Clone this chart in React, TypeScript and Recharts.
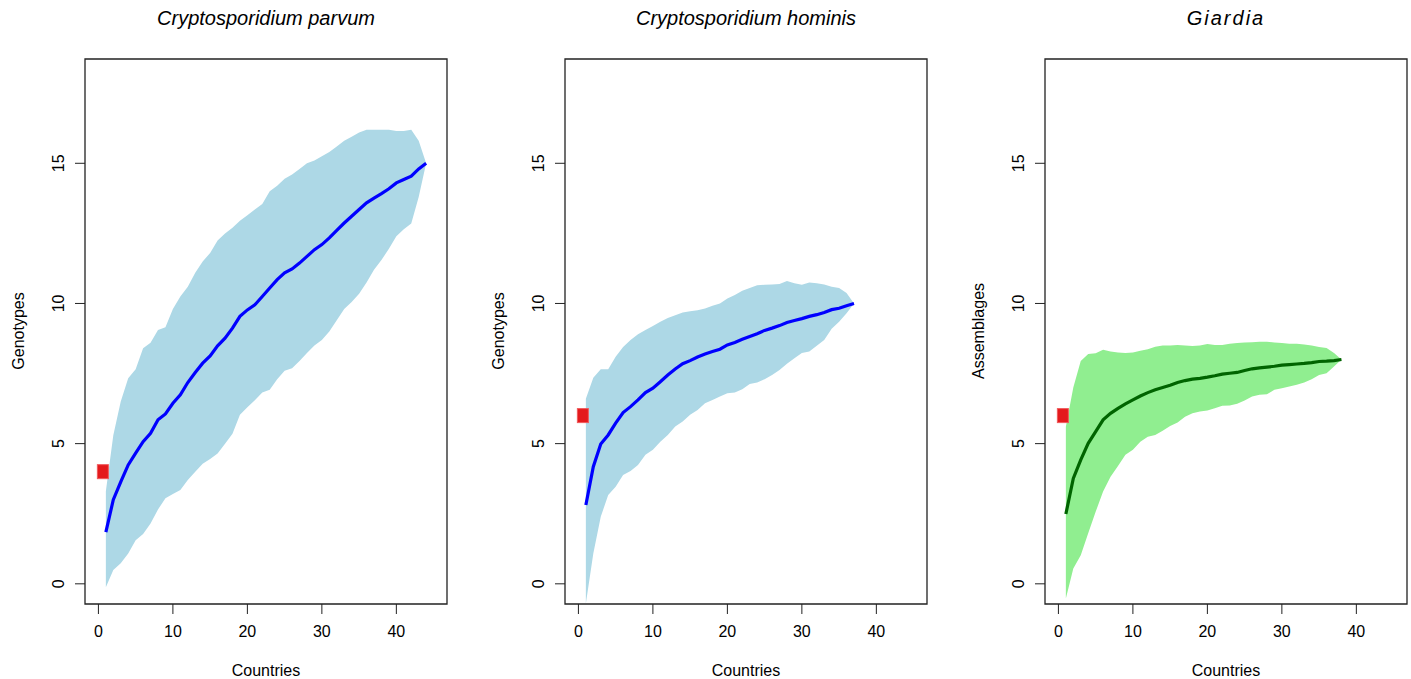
import React from "react"
import {
  ComposedChart,
  Area,
  Line,
  Scatter,
  XAxis,
  YAxis,
  ReferenceArea,
} from "recharts"

// rarefaction curves: mean and band per number of countries sampled
const parvumMean = [1.84, 3.0, 3.64, 4.24, 4.66, 5.07, 5.37, 5.85, 6.06, 6.44, 6.74, 7.18, 7.54, 7.87, 8.13, 8.49, 8.76, 9.12, 9.54, 9.77, 9.95, 10.25, 10.55, 10.85, 11.09, 11.23, 11.44, 11.68, 11.92, 12.1, 12.34, 12.61, 12.87, 13.11, 13.35, 13.59, 13.76, 13.92, 14.09, 14.3, 14.42, 14.54, 14.8, 15.0]
const parvumLower = [-0.12, 0.49, 0.73, 1.08, 1.55, 1.78, 2.15, 2.65, 3.05, 3.2, 3.35, 3.7, 4.0, 4.28, 4.45, 4.65, 5.0, 5.35, 6.03, 6.3, 6.55, 6.82, 6.92, 7.3, 7.6, 7.69, 7.95, 8.23, 8.5, 8.7, 9.0, 9.4, 9.8, 10.05, 10.35, 10.75, 11.2, 11.55, 11.95, 12.4, 12.65, 12.85, 13.8, 15.0]
const parvumUpper = [3.3, 5.3, 6.5, 7.33, 7.65, 8.4, 8.6, 9.05, 9.15, 9.8, 10.25, 10.6, 11.1, 11.5, 11.8, 12.25, 12.5, 12.7, 12.95, 13.15, 13.35, 13.55, 14.0, 14.2, 14.45, 14.6, 14.8, 15.0, 15.1, 15.25, 15.4, 15.6, 15.8, 15.95, 16.1, 16.2, 16.2, 16.2, 16.2, 16.15, 16.15, 16.2, 15.8, 15.0]

const hominisMean = [2.81, 4.18, 4.99, 5.31, 5.73, 6.11, 6.32, 6.56, 6.82, 6.98, 7.21, 7.45, 7.66, 7.85, 7.96, 8.09, 8.2, 8.29, 8.37, 8.52, 8.61, 8.72, 8.82, 8.92, 9.04, 9.12, 9.21, 9.32, 9.39, 9.46, 9.54, 9.6, 9.68, 9.78, 9.83, 9.92, 10.0]
const hominisLower = [-0.7, 1.08, 2.39, 3.17, 3.46, 3.88, 4.02, 4.24, 4.6, 4.78, 5.07, 5.31, 5.61, 5.79, 6.03, 6.2, 6.44, 6.56, 6.68, 6.8, 6.82, 6.94, 7.13, 7.18, 7.3, 7.45, 7.63, 7.85, 8.05, 8.23, 8.29, 8.49, 8.7, 9.1, 9.35, 9.65, 10.0]
const hominisUpper = [6.6, 7.35, 7.65, 7.65, 8.1, 8.45, 8.7, 8.9, 9.05, 9.2, 9.35, 9.48, 9.58, 9.68, 9.72, 9.76, 9.82, 9.92, 10.0, 10.18, 10.3, 10.45, 10.55, 10.65, 10.67, 10.68, 10.69, 10.8, 10.72, 10.67, 10.75, 10.72, 10.68, 10.6, 10.55, 10.37, 10.0]

const giardiaMean = [2.49, 3.76, 4.42, 5.01, 5.43, 5.85, 6.08, 6.26, 6.42, 6.56, 6.7, 6.82, 6.92, 7.0, 7.08, 7.18, 7.25, 7.3, 7.33, 7.37, 7.42, 7.48, 7.51, 7.54, 7.61, 7.67, 7.7, 7.73, 7.76, 7.8, 7.82, 7.84, 7.86, 7.89, 7.93, 7.94, 7.96, 8.0]
const giardiaLower = [-0.52, 0.55, 1.02, 1.8, 2.57, 3.29, 3.82, 4.2, 4.6, 4.78, 5.07, 5.25, 5.31, 5.46, 5.63, 5.75, 5.96, 6.08, 6.15, 6.18, 6.26, 6.35, 6.36, 6.42, 6.54, 6.68, 6.74, 6.76, 6.92, 6.98, 7.04, 7.1, 7.18, 7.3, 7.45, 7.51, 7.75, 8.0]
const giardiaUpper = [5.6, 7.0, 7.95, 8.2, 8.22, 8.35, 8.29, 8.25, 8.23, 8.25, 8.31, 8.37, 8.46, 8.5, 8.5, 8.52, 8.5, 8.48, 8.5, 8.55, 8.52, 8.52, 8.56, 8.59, 8.61, 8.62, 8.63, 8.63, 8.61, 8.59, 8.56, 8.56, 8.54, 8.5, 8.45, 8.41, 8.23, 8.0]

// observed value (red marker)
const parvumObserved = [{ x: 0.6, y: 4 }]
const hominisObserved = [{ x: 0.6, y: 6 }]
const giardiaObserved = [{ x: 0.6, y: 6 }]

const xTicks = [0, 10, 20, 30, 40]
const yTicks = [0, 5, 10, 15]

const FONT = "'Liberation Sans', Arial, Helvetica, sans-serif"
const X_DOMAIN: [number, number] = [-1.8, 46.8]
const Y_DOMAIN: [number, number] = [-0.72, 18.72]

const buildRows = (mean: number[], lower: number[], upper: number[]) =>
  mean.map((m, i) => ({ x: i + 1, mean: m, band: [lower[i], upper[i]] }))

const YTick = ({ x, y, payload }: any) => (
  <text
    x={x}
    y={y}
    transform={`rotate(-90 ${x} ${y})`}
    textAnchor="middle"
    fontSize={16}
    fontFamily={FONT}
    fill="#000"
  >
    {payload.value}
  </text>
)

const RedMark = (props: any) => (
  <rect
    x={props.cx - 5.5}
    y={props.cy - 7}
    width={11}
    height={14}
    fill="#E41A1C"
    stroke="#F05A5C"
    strokeWidth={1}
  />
)

type PanelProps = {
  left: number
  title: string
  titleSpacing?: number
  yLabel: string
  mean: number[]
  lower: number[]
  upper: number[]
  observed: { x: number; y: number }[]
  bandColor: string
  lineColor: string
}

function Panel({ left, title, titleSpacing = 0, yLabel, mean, lower, upper, observed, bandColor, lineColor }: PanelProps) {
  const rows = buildRows(mean, lower, upper)
  return (
    <div style={{ position: "absolute", left, top: 0, width: 470, height: 679 }}>
      <ComposedChart
        width={470}
        height={679}
        data={rows}
        margin={{ top: 59, right: 23, left: 45, bottom: 45 }}
      >
        <XAxis
          dataKey="x"
          type="number"
          domain={X_DOMAIN}
          ticks={xTicks}
          allowDataOverflow
          axisLine={false}
          tickLine={{ stroke: "#222" }}
          tickSize={10}
          tickMargin={12}
          height={30}
          tick={{ fontSize: 16, fontFamily: FONT, fill: "#000" }}
        />
        <YAxis
          type="number"
          domain={Y_DOMAIN}
          ticks={yTicks}
          allowDataOverflow
          axisLine={false}
          tickLine={{ stroke: "#222" }}
          tickSize={10}
          tickMargin={11}
          width={40}
          tick={<YTick />}
        />
        <Area
          type="linear"
          dataKey="band"
          fill={bandColor}
          fillOpacity={1}
          stroke="none"
          isAnimationActive={false}
        />
        <Line
          type="linear"
          dataKey="mean"
          stroke={lineColor}
          strokeWidth={3.2}
          dot={false}
          isAnimationActive={false}
        />
        <Scatter data={observed} dataKey="y" shape={<RedMark />} isAnimationActive={false} />
        <ReferenceArea
          x1={X_DOMAIN[0]}
          x2={X_DOMAIN[1]}
          y1={Y_DOMAIN[0]}
          y2={Y_DOMAIN[1]}
          fill="none"
          stroke="#222"
          strokeWidth={1.3}
        />
      </ComposedChart>
      <svg
        width={470}
        height={679}
        style={{ position: "absolute", left: 0, top: 0, pointerEvents: "none" }}
      >
        <text
          x={266}
          y={25}
          textAnchor="middle"
          fontSize={20}
          fontStyle="italic"
          fontFamily={FONT}
          letterSpacing={titleSpacing}
        >
          {title}
        </text>
        <text x={266} y={676} textAnchor="middle" fontSize={16} fontFamily={FONT}>
          Countries
        </text>
        <text
          x={24}
          y={331}
          transform="rotate(-90 24 331)"
          textAnchor="middle"
          fontSize={16}
          fontFamily={FONT}
        >
          {yLabel}
        </text>
      </svg>
    </div>
  )
}

export default function App() {
  return (
    <div
      style={{
        position: "absolute",
        left: 0,
        top: 0,
        width: 1411,
        height: 679,
        overflow: "hidden",
        background: "#fff",
      }}
    >
      <Panel
        left={0}
        title="Cryptosporidium parvum"
        yLabel="Genotypes"
        mean={parvumMean}
        lower={parvumLower}
        upper={parvumUpper}
        observed={parvumObserved}
        bandColor="#ADD8E6"
        lineColor="#0000FF"
      />
      <Panel
        left={480}
        title="Cryptosporidium hominis"
        yLabel="Genotypes"
        mean={hominisMean}
        lower={hominisLower}
        upper={hominisUpper}
        observed={hominisObserved}
        bandColor="#ADD8E6"
        lineColor="#0000FF"
      />
      <Panel
        left={960}
        title="Giardia"
        titleSpacing={2}
        yLabel="Assemblages"
        mean={giardiaMean}
        lower={giardiaLower}
        upper={giardiaUpper}
        observed={giardiaObserved}
        bandColor="#90EE90"
        lineColor="#006400"
      />
    </div>
  )
}
